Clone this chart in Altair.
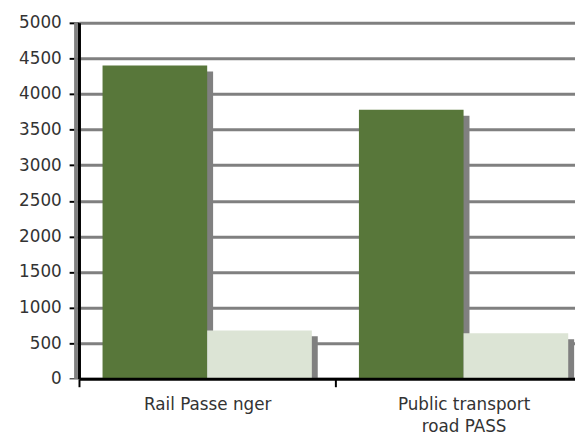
import altair as alt
import pandas as pd

categories = ["Rail Passe nger", "Public transport|road PASS"]
series = ["Series 1", "Series 2"]
values_series1 = [4400, 3780]
values_series2 = [680, 640]
y_ticks = [0, 500, 1000, 1500, 2000, 2500, 3000, 3500, 4000, 4500, 5000]

rows = []
for c, v1, v2 in zip(categories, values_series1, values_series2):
    rows.append({"category": c, "series": series[0], "value": v1})
    rows.append({"category": c, "series": series[1], "value": v2})
df = pd.DataFrame(rows)

FONT = "DejaVu Sans"
LABEL_COLOR = "#333333"

x_enc = alt.X(
    "category:N",
    sort=categories,
    scale=alt.Scale(range=[0, 520], paddingInner=0, paddingOuter=0),
    axis=alt.Axis(
        title=None,
        labelAngle=0,
        tickBand="extent",
        domainColor="black",
        domainWidth=3,
        tickColor="black",
        tickWidth=2,
        tickSize=8,
        labelPadding=10,
        labelFont=FONT,
        labelFontSize=17,
        labelColor=LABEL_COLOR,
        labelLineHeight=22,
        labelBaseline="top",
        labelExpr="split(datum.label, '|')",
        zindex=1,
    ),
)
y_enc = alt.Y(
    "value:Q",
    scale=alt.Scale(domain=[0, 5000], nice=False),
    axis=alt.Axis(
        title=None,
        values=y_ticks,
        format="d",
        domainColor="black",
        domainWidth=3,
        tickColor="black",
        tickWidth=2,
        tickSize=10,
        labelPadding=8,
        labelFont=FONT,
        labelFontSize=17,
        labelColor=LABEL_COLOR,
        gridColor="#808080",
        gridWidth=3,
        gridOpacity=1,
    ),
)
xoff_bars = alt.XOffset(
    "series:N", sort=series,
    scale=alt.Scale(range=[0, 260], paddingInner=0, paddingOuter=0.225),
)
xoff_shadow = alt.XOffset(
    "series:N", sort=series,
    scale=alt.Scale(range=[6, 266], paddingInner=0, paddingOuter=0.225),
)
color_enc = alt.Color(
    "series:N",
    sort=series,
    scale=alt.Scale(domain=series, range=["#58773A", "#DCE4D5"]),
    legend=None,
)

base = alt.Chart(df)

left_shadow = base.mark_rule(color="#808080", strokeWidth=3).encode(
    x=alt.value(-3),
    y=alt.value(0),
    y2=alt.value(361),
)

shadows = base.mark_bar(color="#808080", yOffset=6).encode(
    x=x_enc, xOffset=xoff_shadow, y=y_enc
)

below_mask = base.mark_rect(color="white").encode(
    x=alt.value(-10), x2=alt.value(530), y=alt.value(362), y2=alt.value(375)
)

bars = base.mark_bar().encode(x=x_enc, xOffset=xoff_bars, y=y_enc, color=color_enc)

chart = (
    alt.layer(left_shadow, shadows, below_mask, bars)
    .resolve_scale(xOffset="independent")
    .properties(
        width=503,
        height=361,
        autosize=alt.AutoSizeParams(type="none"),
        padding={"left": 72, "top": 12, "right": 0, "bottom": 62},
    )
    .configure_view(stroke=None)
    .configure(background="white")
)

chart.save("out.html", embed_options={"renderer": "svg", "actions": False})
